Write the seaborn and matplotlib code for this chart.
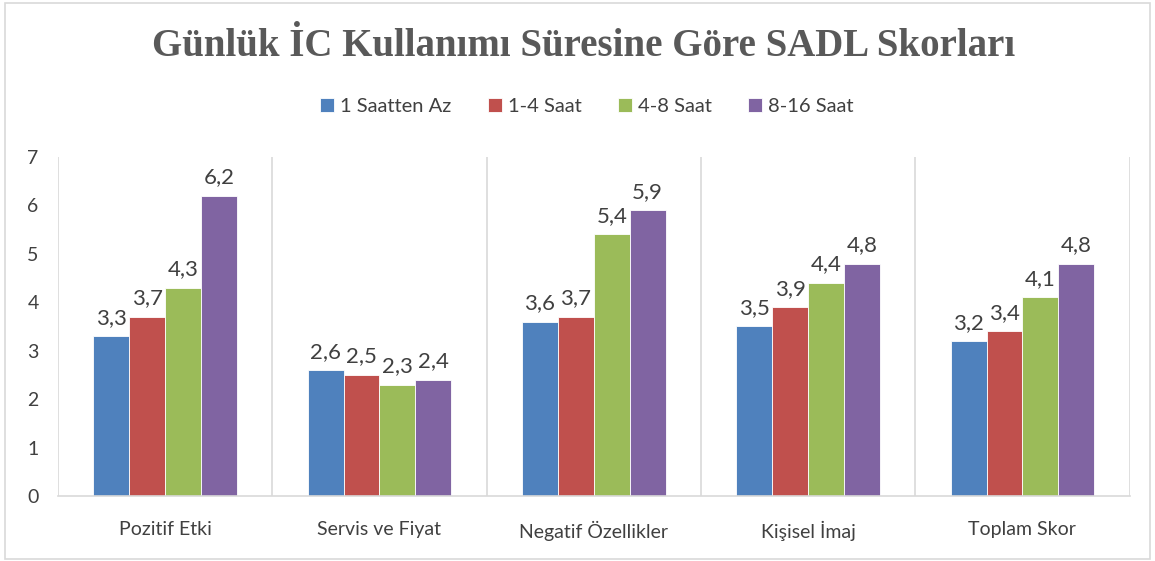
import pandas as pd
import matplotlib.pyplot as plt
import seaborn as sns
from matplotlib.patches import Rectangle

# Data
categories = ['Pozitif Etki', 'Servis ve Fiyat', 'Negatif Özellikler', 'Kişisel İmaj', 'Toplam Skor']
groups = ['1 Saatten Az', '1-4 Saat', '4-8 Saat', '8-16 Saat']
saat_1_az = [3.3, 2.6, 3.6, 3.5, 3.2]
saat_1_4 = [3.7, 2.5, 3.7, 3.9, 3.4]
saat_4_8 = [4.3, 2.3, 5.4, 4.4, 4.1]
saat_8_16 = [6.2, 2.4, 5.9, 4.8, 4.8]
colors = ['#4F81BD', '#C0504D', '#9BBB59', '#8064A2']

rows = []
for g, vals in zip(groups, [saat_1_az, saat_1_4, saat_4_8, saat_8_16]):
    for c, v in zip(categories, vals):
        rows.append({'Kategori': c, 'Grup': g, 'Skor': v})
df = pd.DataFrame(rows)

sns.set_style('white')
plt.rcParams['font.family'] = ['Lato', 'DejaVu Sans']
text_col = '#404040'
grid_col = '#D9D9D9'

fig = plt.figure(figsize=(11.55, 5.61), dpi=100)
ax = fig.add_axes([0.0502, 0.1159, 0.9278, 0.6043])

sns.barplot(data=df, x='Kategori', y='Skor', hue='Grup', palette=colors, saturation=1,
            width=0.67, edgecolor='white', linewidth=0.6, ax=ax, legend=True)

for cont in ax.containers:
    ax.bar_label(cont, labels=[f'{b.get_height():.1f}'.replace('.', ',') for b in cont],
                 padding=6, fontsize=16, color=text_col)

ax.set_xlim(-0.5, 4.5)
ax.set_ylim(0, 7)
ax.set_yticks(range(0, 8))
ax.set_xlabel('')
ax.set_ylabel('')
for s in ['top', 'right', 'left']:
    ax.spines[s].set_visible(False)
ax.spines['bottom'].set_color(grid_col)
ax.spines['bottom'].set_linewidth(1.2)
for xv in [-0.5, 0.5, 1.5, 2.5, 3.5, 4.5]:
    ax.axvline(xv, color=grid_col, lw=1.2, zorder=0)
ax.tick_params(axis='x', length=0, pad=18, labelsize=14, labelcolor=text_col)
ax.tick_params(axis='y', length=0, pad=14, labelsize=14, labelcolor=text_col)

handles, labels = ax.get_legend_handles_labels()
ax.get_legend().remove()
fig.legend(handles, labels, loc='center', bbox_to_anchor=(0.508, 0.81), ncol=4,
           frameon=False, fontsize=14.5, handlelength=0.7, handleheight=0.7,
           handletextpad=0.3, columnspacing=1.8, labelcolor=text_col)

fig.text(0.505, 0.918, 'Günlük İC Kullanımı Süresine Göre SADL Skorları',
         ha='center', va='center', fontsize=28, fontweight='bold',
         family=['Liberation Serif', 'DejaVu Serif'], color='#595959')

fig.patches.append(Rectangle((0.004, 0.004), 0.992, 0.99, transform=fig.transFigure,
                             fill=False, edgecolor=grid_col, lw=1.2))

fig.savefig('out.png', dpi=100)
